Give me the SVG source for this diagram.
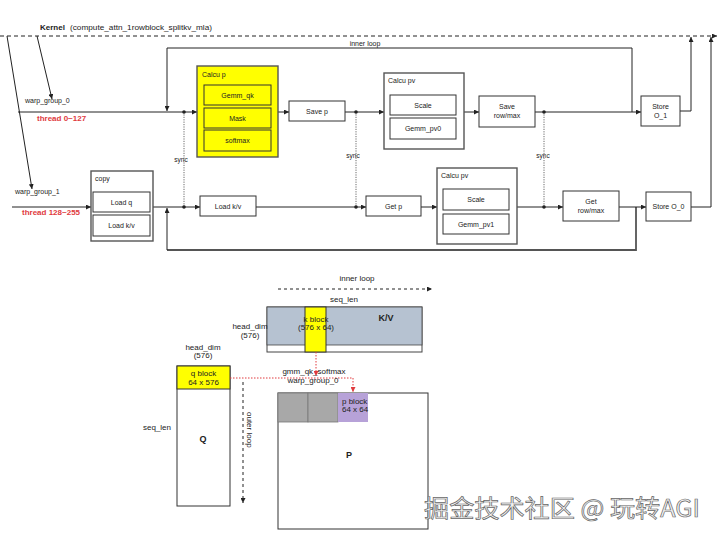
<svg xmlns="http://www.w3.org/2000/svg" width="720" height="539" viewBox="0 0 720 539">
<defs>
<marker id="ar" viewBox="0 0 10 10" refX="10" refY="5" markerWidth="5" markerHeight="5" markerUnits="userSpaceOnUse" orient="auto"><path d="M0,0 L10,5 L0,10 z" fill="#222"/></marker>
<marker id="arr" viewBox="0 0 10 10" refX="10" refY="5" markerWidth="5" markerHeight="5" markerUnits="userSpaceOnUse" orient="auto"><path d="M0,0 L10,5 L0,10 z" fill="#e03a3e"/></marker>
<style>
text{font-family:"Liberation Sans","Noto Sans",Arial,sans-serif;fill:#222;font-size:7px}
.c{text-anchor:middle}
.b{font-weight:bold}
.red{fill:#e03a3e;font-weight:bold;font-size:8px}
.box{fill:#fff;stroke:#333;stroke-width:1}
.grp{fill:#fff;stroke:#555;stroke-width:1.4}
.yel{fill:#ffff00;stroke:#555;stroke-width:1.4}
.yin{fill:#ffff00;stroke:#333;stroke-width:1}
.ln{fill:none;stroke:#222;stroke-width:1;marker-end:url(#ar)}
.lp{fill:none;stroke:#222;stroke-width:1}
.thk{fill:none;stroke:#555;stroke-width:1.8}
.sync{fill:none;stroke:#444;stroke-width:0.8;stroke-dasharray:1.2 1.2}
.dot{fill:#222}
.rd{fill:none;stroke:#e03a3e;stroke-width:1;stroke-dasharray:1.5 1.5}
.bt{font-size:8px}
</style>
</defs>
<rect width="720" height="539" fill="#fff"/>

<g id="kernel-label">
<text x="40" y="30" class="b" style="font-size:8px">Kernel</text>
<text x="70" y="30" textLength="142" lengthAdjust="spacingAndGlyphs" style="font-size:7.5px">(compute_attn_1rowblock_splitkv_mla)</text>
</g>

<g id="connectors">
<line x1="0" y1="36" x2="717" y2="36" class="ln" stroke-dasharray="4 3"/>
<line x1="7" y1="36" x2="32" y2="189" class="ln"/>
<line x1="37" y1="36" x2="52" y2="99" class="ln"/>
<line x1="18" y1="112" x2="197" y2="112" class="ln"/>
<path d="M632,112 V48 H167 V111" class="ln"/>
<line x1="278" y1="112" x2="289" y2="112" class="ln"/>
<line x1="345" y1="112" x2="384" y2="112" class="ln"/>
<line x1="464" y1="112" x2="479" y2="112" class="ln"/>
<line x1="535" y1="112" x2="641" y2="112" class="ln"/>
<path d="M680,111 H691 V37" class="ln"/>
<path d="M691,207 H711 V37" class="ln"/>
<line x1="12" y1="207" x2="91" y2="207" class="ln"/>
<line x1="153" y1="207" x2="200" y2="207" class="ln"/>
<path d="M636,207 V250 H167" class="thk"/>
<line x1="167" y1="250" x2="167" y2="208" class="ln"/>
<line x1="256" y1="207" x2="366" y2="207" class="ln"/>
<line x1="421" y1="207" x2="437" y2="207" class="ln"/>
<line x1="517" y1="207" x2="563" y2="207" class="ln"/>
<line x1="619" y1="207" x2="646" y2="207" class="ln"/>
<line x1="184" y1="112" x2="184" y2="207" class="sync"/>
<line x1="356" y1="112" x2="356" y2="207" class="sync"/>
<line x1="544" y1="112" x2="544" y2="207" class="sync"/>
<circle cx="184" cy="112" r="1.8" class="dot"/>
<circle cx="356" cy="112" r="1.8" class="dot"/>
<circle cx="544" cy="112" r="1.8" class="dot"/>
<circle cx="184" cy="207" r="1.8" class="dot"/>
<circle cx="356" cy="207" r="1.8" class="dot"/>
<circle cx="544" cy="207" r="1.8" class="dot"/>
</g>

<g id="labels">
<text x="365" y="46" class="c">inner loop</text>
<text x="25" y="103">warp_group_0</text>
<text x="37" y="121" class="red">thread 0~127</text>
<text x="15" y="194">warp_group_1</text>
<text x="22" y="215" class="red">thread 128~255</text>
<text x="181" y="162" class="c" style="font-size:6.5px">sync</text>
<text x="353" y="158" class="c" style="font-size:6.5px">sync</text>
<text x="543" y="158" class="c" style="font-size:6.5px">sync</text>
</g>

<g id="calcu-p">
<rect x="197" y="66" width="81" height="91" class="yel"/>
<text x="202" y="77">Calcu p</text>
<rect x="204" y="85" width="67" height="20" class="yin"/>
<text x="237.5" y="97.5" class="c">Gemm_qk</text>
<rect x="204" y="108" width="67" height="20" class="yin"/>
<text x="237.5" y="120.5" class="c">Mask</text>
<rect x="204" y="130" width="67" height="21" class="yin"/>
<text x="237.5" y="143" class="c">softmax</text>
</g>

<g id="save-p">
<rect x="289" y="101" width="56" height="20" class="box"/>
<text x="317" y="113.5" class="c">Save p</text>
</g>

<g id="calcu-pv-0">
<rect x="384" y="73" width="80" height="76" class="grp"/>
<text x="388" y="83">Calcu pv</text>
<rect x="390" y="95" width="66" height="20" class="box"/>
<text x="423" y="107.5" class="c">Scale</text>
<rect x="390" y="118" width="66" height="21" class="box"/>
<text x="423" y="131" class="c">Gemm_pv0</text>
</g>

<g id="save-rowmax">
<rect x="479" y="96" width="56" height="31" class="box"/>
<text x="507" y="109" class="c">Save</text>
<text x="507" y="118" class="c">row/max</text>
</g>

<g id="store-o1">
<rect x="641" y="96" width="39" height="30" class="box"/>
<text x="660.5" y="108.5" class="c">Store</text>
<text x="660.5" y="118" class="c">O_1</text>
</g>

<g id="copy">
<rect x="91" y="171" width="62" height="70" class="grp"/>
<text x="95" y="181">copy</text>
<rect x="93" y="192" width="57" height="20" class="box"/>
<text x="121.5" y="204.5" class="c">Load q</text>
<rect x="93" y="215" width="57" height="21" class="box"/>
<text x="121.5" y="228" class="c">Load k/v</text>
</g>

<g id="load-kv">
<rect x="200" y="196" width="56" height="20" class="box"/>
<text x="228" y="208.5" class="c">Load k/v</text>
</g>

<g id="get-p">
<rect x="366" y="196" width="55" height="20" class="box"/>
<text x="393.5" y="208.5" class="c">Get p</text>
</g>

<g id="calcu-pv-1">
<rect x="437" y="168" width="80" height="76" class="grp"/>
<text x="441" y="178">Calcu pv</text>
<rect x="443" y="189" width="66" height="21" class="box"/>
<text x="476" y="202" class="c">Scale</text>
<rect x="443" y="214" width="66" height="20" class="box"/>
<text x="476" y="226.5" class="c">Gemm_pv1</text>
</g>

<g id="get-rowmax">
<rect x="563" y="191" width="56" height="30" class="box"/>
<text x="591" y="203.5" class="c">Get</text>
<text x="591" y="213" class="c">row/max</text>
</g>

<g id="store-o0">
<rect x="646" y="192" width="45" height="29" class="box"/>
<text x="668.5" y="209" class="c">Store O_0</text>
</g>

<g id="bottom-diagram">
<text x="357" y="281" class="c bt">inner loop</text>
<line x1="278" y1="289" x2="432" y2="289" class="ln" stroke-dasharray="3 3"/>
<text x="344" y="302" class="c bt">seq_len</text>

<g id="kv">
<rect x="267" y="307" width="155" height="45" fill="#fff" stroke="#444" stroke-width="1"/>
<rect x="267" y="307" width="155" height="38" fill="#b6c2d1" stroke="#444" stroke-width="0.8"/>
<text x="386" y="321" class="c b" style="font-size:9px">K/V</text>
</g>
<g id="k-block">
<rect x="305" y="307" width="21" height="45" fill="#ffff00" stroke="#333" stroke-width="1"/>
<text x="316" y="322" class="c bt">k block</text>
<text x="316" y="330" class="c bt">(576 x 64)</text>
</g>
<text x="250" y="329" class="c bt">head_dim</text>
<text x="250" y="338" class="c bt">(576)</text>

<text x="203" y="350" class="c bt">head_dim</text>
<text x="203" y="358" class="c bt">(576)</text>
<g id="q">
<rect x="177" y="366" width="53" height="140" fill="#fff" stroke="#333" stroke-width="1"/>
<rect x="177" y="366" width="53" height="23" fill="#ffff00" stroke="#333" stroke-width="1"/>
<text x="203.5" y="376" class="c bt">q block</text>
<text x="203.5" y="385" class="c bt">64 x 576</text>
<text x="203" y="442" class="c b" style="font-size:9px">Q</text>
</g>
<text x="157" y="430" class="c bt">seq_len</text>

<line x1="243" y1="382" x2="243" y2="503" class="ln" stroke-dasharray="3 3"/>
<text transform="translate(247,412) rotate(90)" class="bt">outer loop</text>

<path d="M230,378 H353 V392" class="rd" marker-end="url(#arr)"/>
<line x1="316" y1="352" x2="316" y2="376" class="rd" marker-end="url(#arr)"/>
<text x="314" y="374" class="c bt">gmm_qk_softmax</text>
<text x="313" y="383" class="c bt">warp_group_0</text>

<g id="p">
<rect x="278" y="393" width="150" height="136" fill="#fff" stroke="#333" stroke-width="1"/>
<rect x="278" y="393" width="30" height="29" fill="#a8a8a8" stroke="#777" stroke-width="0.8"/>
<rect x="308" y="393" width="30" height="29" fill="#a8a8a8" stroke="#777" stroke-width="0.8"/>
<rect x="338" y="393" width="30" height="29" fill="#b7a2d8"/>
<text x="342" y="404" class="bt">p block</text>
<text x="342" y="412" class="bt">64 x 64</text>
<text x="349" y="458" class="c b" style="font-size:9px">P</text>
</g>
</g>

<text x="424" y="517" textLength="276" lengthAdjust="spacingAndGlyphs" style="font-family:'Noto Sans CJK SC','Noto Sans',sans-serif;font-size:24px;fill:#f4f4f4;stroke:#666;stroke-width:0.7">掘金技术社区 @ 玩转AGI</text>
</svg>
